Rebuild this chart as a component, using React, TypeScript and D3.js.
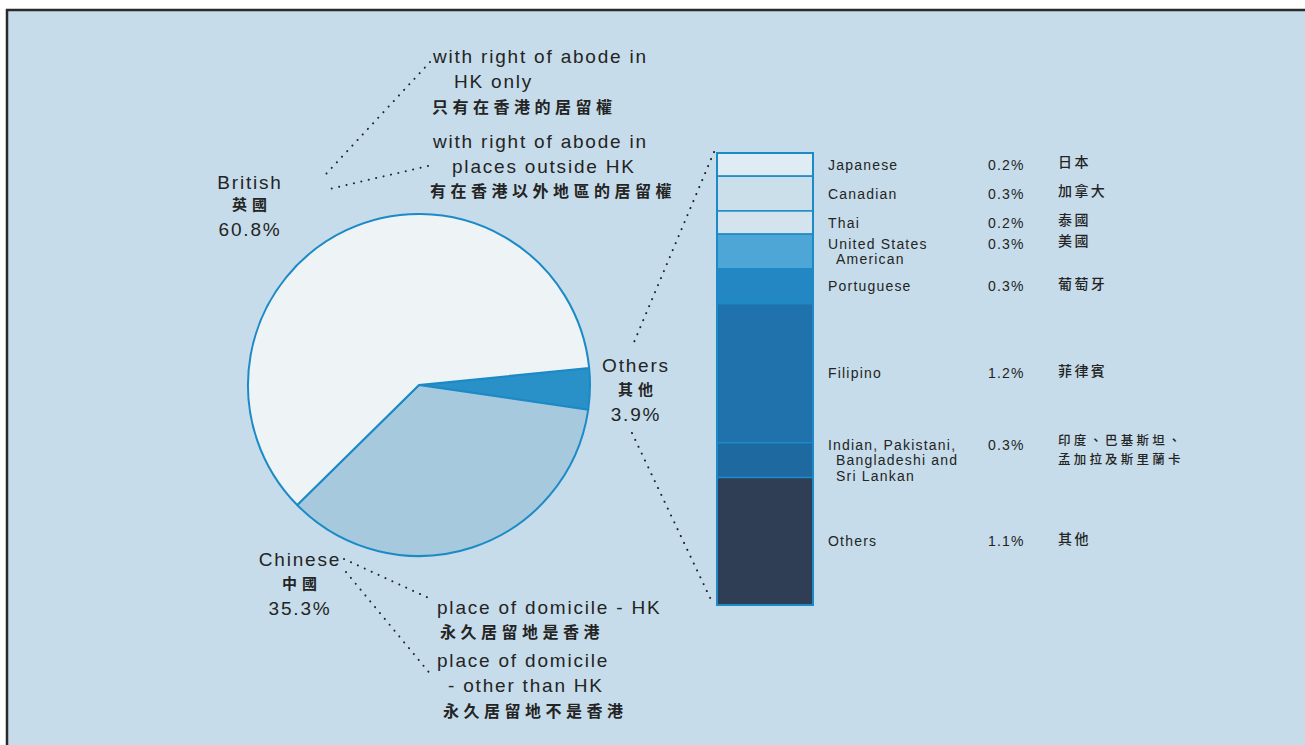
import React from 'react';
import * as d3 from 'd3';

// ---------- DATA ----------
const pieCategories = ['Others', 'Chinese', 'British'];
const pieChinese = ['其他', '中國', '英國'];
const pieValues = [3.9, 35.3, 60.8];

const barCategories = [
  ['Japanese'],
  ['Canadian'],
  ['Thai'],
  ['United States', 'American'],
  ['Portuguese'],
  ['Filipino'],
  ['Indian, Pakistani,', 'Bangladeshi and', 'Sri Lankan'],
  ['Others'],
];
const barChinese = [
  ['日本'],
  ['加拿大'],
  ['泰國'],
  ['美國'],
  ['葡萄牙'],
  ['菲律賓'],
  ['印度、巴基斯坦、', '孟加拉及斯里蘭卡'],
  ['其他'],
];
const barValues = [0.2, 0.3, 0.2, 0.3, 0.3, 1.2, 0.3, 1.1];

const britishNotes = [
  ['with right of abode in', 'HK only', '只有在香港的居留權'],
  ['with right of abode in', 'places outside HK', '有在香港以外地區的居留權'],
];
const chineseNotes = [
  ['place of domicile - HK', '永久居留地是香港'],
  ['place of domicile', '- other than HK', '永久居留地不是香港'],
];

// ---------- STYLE ----------
const W = 1305;
const H = 745;
const BG = '#c6dcea';
const INK = '#242424';
const BLUE = '#1c8ac6';
const EN = '"Liberation Sans", Arial, Helvetica, sans-serif';
const ZH = '"Noto Sans CJK TC", "Noto Sans CJK SC", sans-serif';
const pieColors = ['#2a90c8', '#a7c9dd', '#eef3f6'];
const barColors = ['#e0ecf3', '#cbdfeb', '#d3e4ee', '#4ea6d6', '#2387c3', '#1f72ab', '#1e69a0', '#2f3e54'];

const DOT = { stroke: INK, strokeWidth: 2, strokeDasharray: '0.1 7.5', strokeLinecap: 'round' as const, fill: 'none' };

export default function App() {
  // pie
  const cx = 419, cy = 385, r = 171;
  const a0 = (84.3 * Math.PI) / 180;
  const pie = d3.pie<number>().sort(null).startAngle(a0).endAngle(a0 + 2 * Math.PI);
  const arcs = pie(pieValues);
  const arcGen = d3.arc<d3.PieArcDatum<number>>().innerRadius(0).outerRadius(r);

  // stacked bar
  const bx = 717, bw = 96;
  const total = d3.sum(barValues);
  const y = d3.scaleLinear().domain([0, total]).range([153, 605]);
  const cum = d3.cumsum(barValues);
  const segs = barValues.map((v, i) => ({ v, y0: y(cum[i] - v), y1: y(cum[i]) }));

  const enText = (t: string, x: number, yy: number, anchor = 'start', size = 19, ls = 1.8, key?: string) => (
    <text key={key} x={x} y={yy} textAnchor={anchor} fontFamily={EN} fontSize={size} letterSpacing={ls} fill={INK}>{t}</text>
  );
  const zhText = (t: string, x: number, yy: number, anchor = 'start', size = 16, ls = 4.5, key?: string, weight = 700) => (
    <text key={key} x={x} y={yy} textAnchor={anchor} fontFamily={ZH} fontSize={size} letterSpacing={ls} fill={INK} fontWeight={weight}>{t}</text>
  );

  return (
    <svg width={W} height={H} viewBox={`0 0 ${W} ${H}`} style={{ position: 'absolute', left: 0, top: 0, display: 'block' }}>
      <rect x={0} y={0} width={W} height={H} fill="#ffffff" />
      <rect x={7} y={10} width={W - 7} height={H - 10} fill={BG} />
      <line x1={6} y1={10} x2={W} y2={10} stroke="#2a2a2a" strokeWidth={2.5} />
      <line x1={7} y1={9} x2={7} y2={H} stroke="#2a2a2a" strokeWidth={2.5} />

      {/* Pie */}
      <g transform={`translate(${cx},${cy})`}>
        {arcs.map((a, i) => (
          <path key={i} d={arcGen(a) || ''} fill={pieColors[i]} stroke={BLUE} strokeWidth={2} strokeLinejoin="round" />
        ))}
      </g>

      {/* Pie labels */}
      {enText(pieCategories[2], 250, 189, 'middle')}
      {zhText(pieChinese[2], 252, 210, 'middle', 15, 5)}
      {enText(`${pieValues[2]}%`, 250, 236, 'middle')}

      {enText(pieCategories[0], 636, 372, 'middle')}
      {zhText(pieChinese[0], 638, 395, 'middle', 15, 5)}
      {enText(`${pieValues[0]}%`, 636, 421, 'middle')}

      {enText(pieCategories[1], 300, 566, 'middle')}
      {zhText(pieChinese[1], 302, 589, 'middle', 15, 5)}
      {enText(`${pieValues[1]}%`, 300, 615, 'middle')}

      {/* British notes */}
      {enText(britishNotes[0][0], 433, 63)}
      {enText(britishNotes[0][1], 454, 88)}
      {zhText(britishNotes[0][2], 432, 113)}
      {enText(britishNotes[1][0], 433, 148)}
      {enText(britishNotes[1][1], 452, 173)}
      {zhText(britishNotes[1][2], 430, 197)}

      {/* Chinese notes */}
      {enText(chineseNotes[0][0], 437, 614)}
      {zhText(chineseNotes[0][1], 440, 638)}
      {enText(chineseNotes[1][0], 437, 667)}
      {enText(chineseNotes[1][1], 448, 692)}
      {zhText(chineseNotes[1][2], 443, 717)}

      {/* leaders */}
      <line x1={430} y1={62} x2={326} y2={174} {...DOT} />
      <line x1={428} y1={166} x2={325} y2={190} {...DOT} />
      <line x1={344} y1={559} x2={433} y2={600} {...DOT} />
      <line x1={346} y1={572} x2={432} y2={676} {...DOT} />
      <line x1={714} y1={152} x2={632} y2={347} {...DOT} />
      <line x1={632} y1={433} x2={713} y2={604} {...DOT} />

      {/* Stacked bar */}
      {segs.map((s, i) => (
        <rect key={i} x={bx} y={s.y0} width={bw} height={s.y1 - s.y0} fill={barColors[i]} stroke={BLUE} strokeWidth={1.5} />
      ))}
      <rect x={bx} y={y(0)} width={bw} height={y(total) - y(0)} fill="none" stroke={BLUE} strokeWidth={2} />

      {/* Bar legend */}
      {segs.map((s, i) => {
        const lines = barCategories[i];
        const mid = (s.y0 + s.y1) / 2;
        const lh = 15.5;
        const first = mid - ((lines.length - 1) * lh) / 2 + 5;
        const zl = barChinese[i];
        const zlh = 18.5;
        const zFirst = zl.length > 1 ? first - 4.5 : first - 2.5;
        return (
          <g key={i}>
            <text fontFamily={EN} fontSize={14} letterSpacing={1.2} fill={INK}>
              {lines.map((t, j) => (
                <tspan key={j} x={j === 0 ? 828 : 836} y={first + j * lh}>{t}</tspan>
              ))}
            </text>
            {enText(`${barValues[i]}%`, 988, first, 'start', 14, 1.2, 'p')}
            <text fontFamily={ZH} fontSize={zl.length > 1 ? 12.5 : 14} letterSpacing={zl.length > 1 ? 3.2 : 2.4} fill={INK} fontWeight={500}>
              {zl.map((t, j) => (
                <tspan key={j} x={1058} y={zFirst + j * zlh}>{t}</tspan>
              ))}
            </text>
          </g>
        );
      })}
    </svg>
  );
}
